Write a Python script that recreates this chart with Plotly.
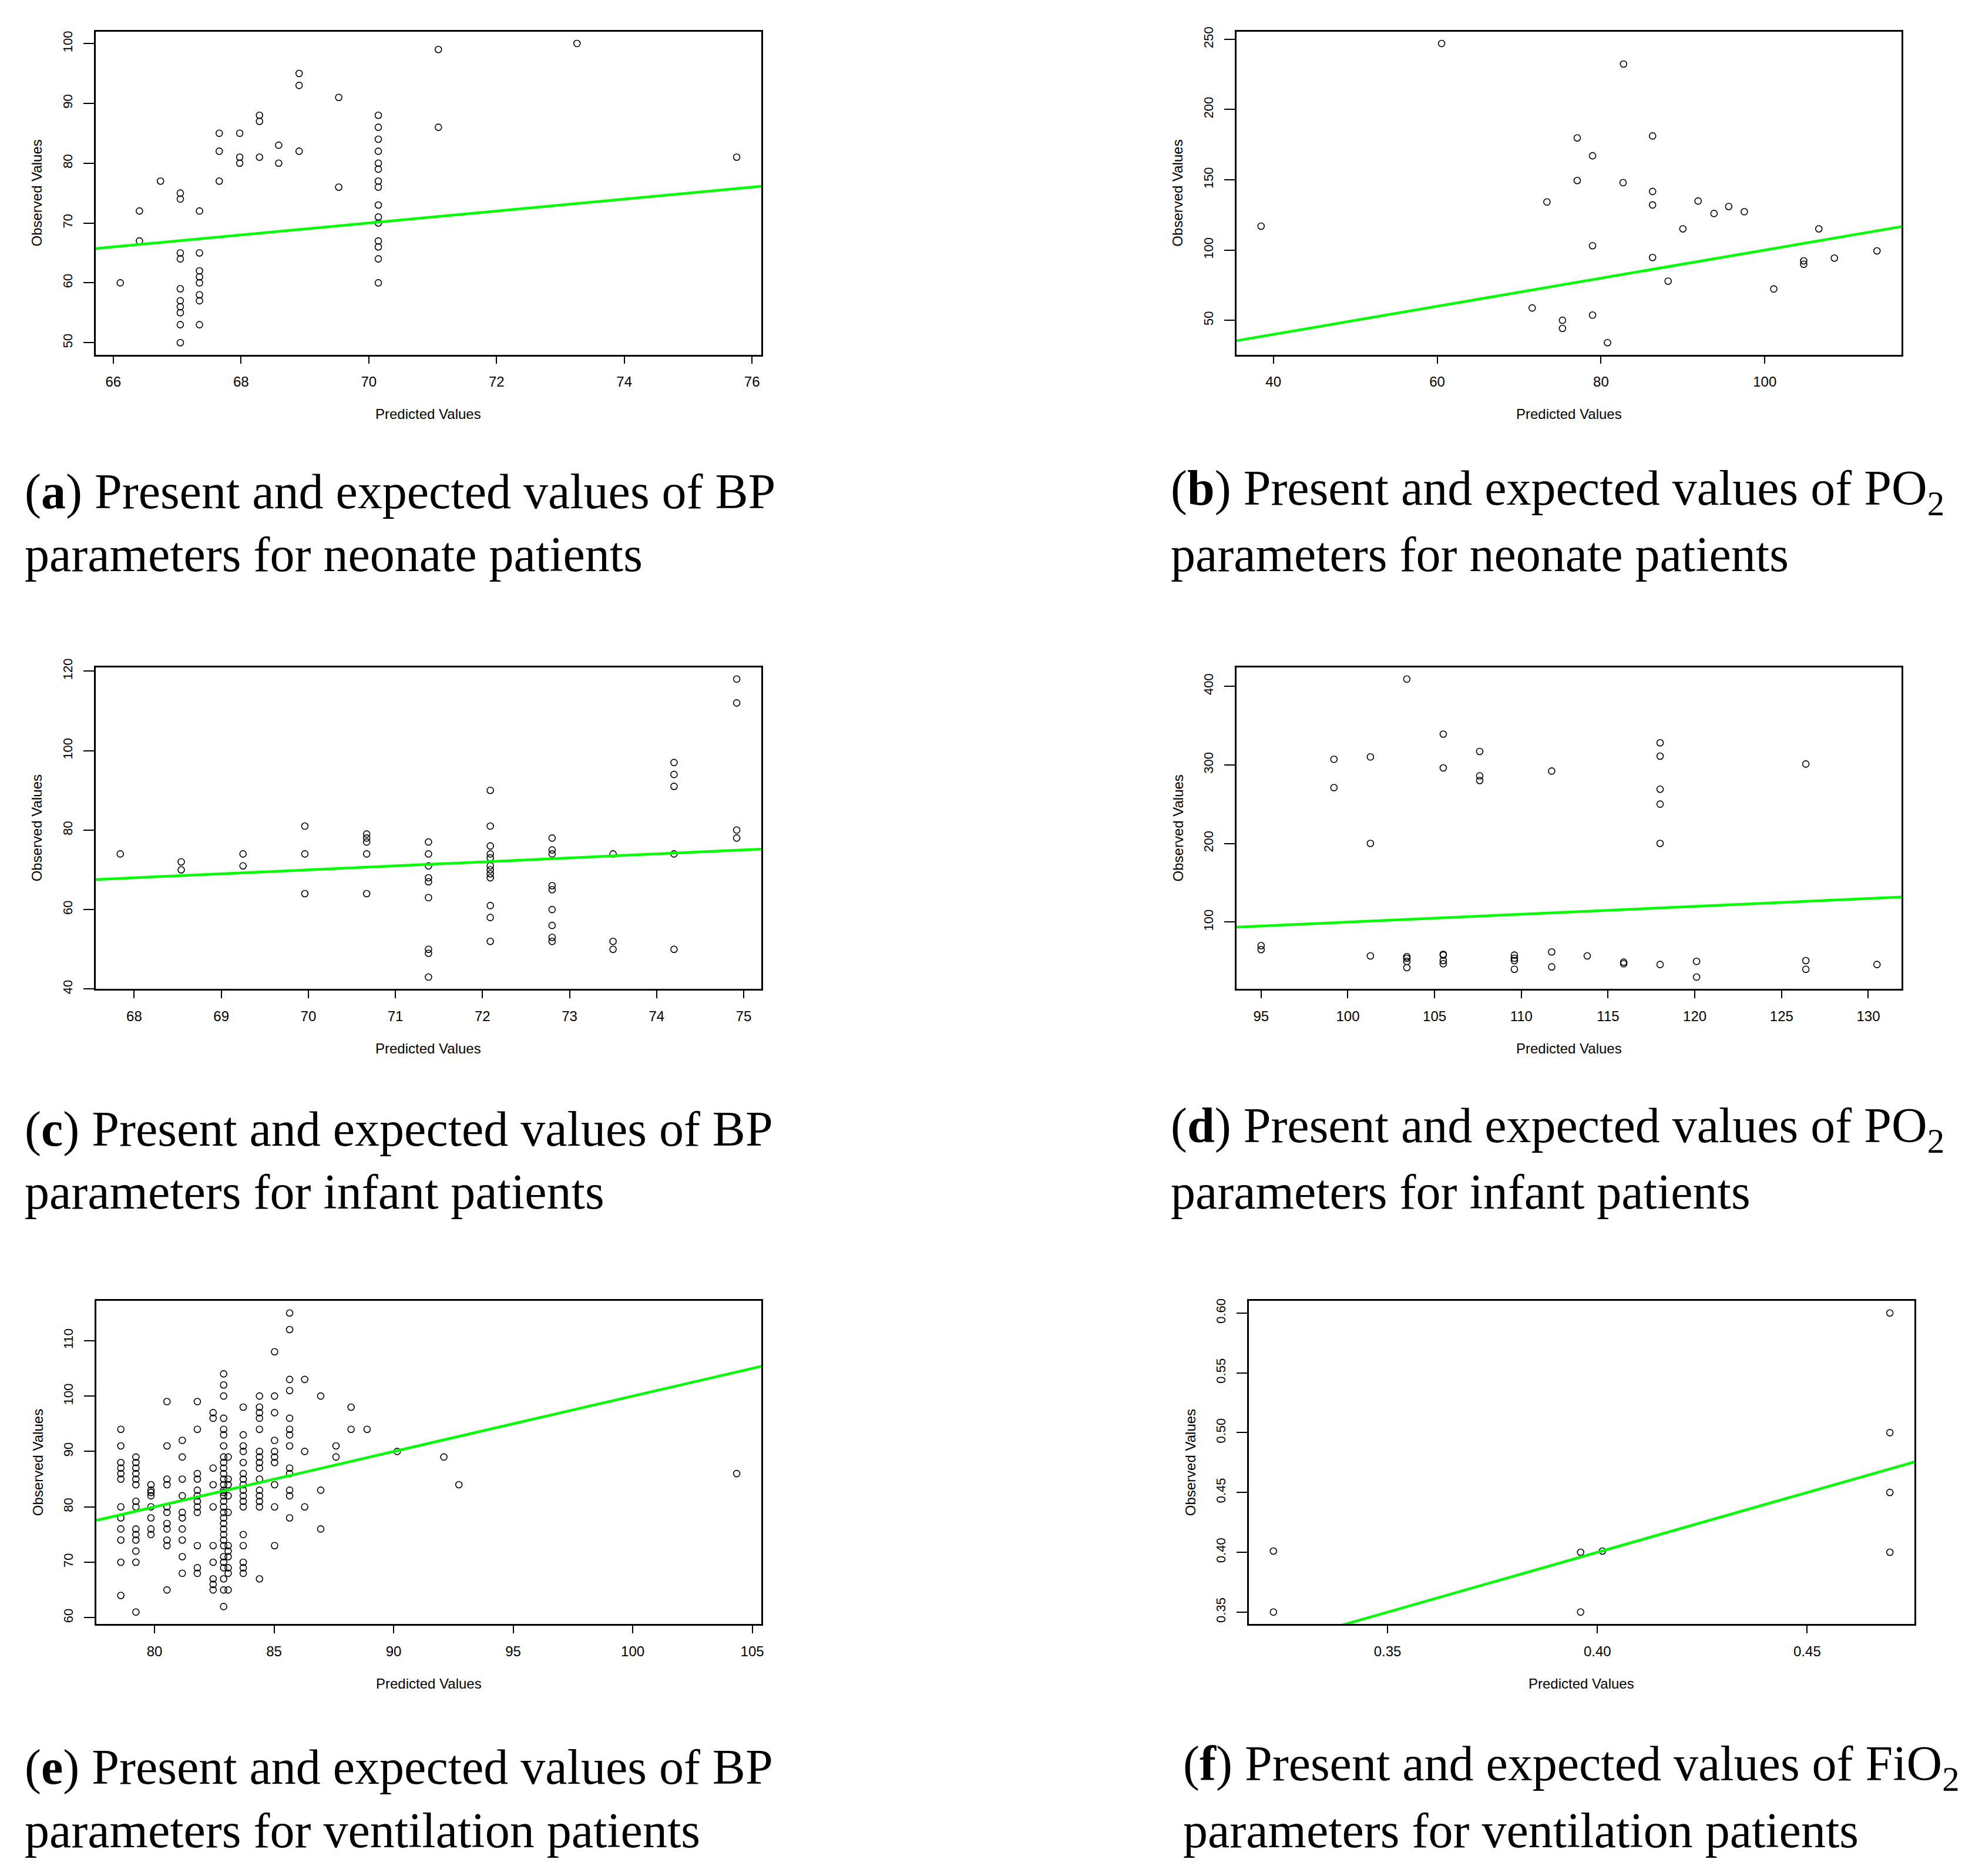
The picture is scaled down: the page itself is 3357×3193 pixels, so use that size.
import plotly.graph_objects as go

# ---------------- data ----------------
# (a) BP, neonate
a_x = [66.11, 66.41, 66.41, 66.74] + [67.05]*10 + [67.35]*8 + [67.66]*3 + [67.98]*3 + [68.29]*3 + [68.59]*2 + [68.91]*3 + [69.53]*2 + [70.15]*15 + [71.09]*2 + [73.26, 75.76]
a_y = [60, 72, 67, 77,
       75, 74, 65, 64, 59, 57, 56, 55, 53, 50,
       72, 65, 62, 61, 60, 58, 57, 53,
       85, 82, 77,
       85, 81, 80,
       88, 87, 81,
       83, 80,
       95, 93, 82,
       91, 76,
       88, 86, 84, 82, 80, 79, 77, 76, 73, 71, 70, 67, 66, 64, 60,
       99, 86,
       100, 81]

# (b) PO2, neonate
b_x = [38.5, 60.54, 82.75, 77.1, 86.3, 78.97, 77.1, 82.7, 86.3, 73.4, 91.86, 86.3, 95.6, 97.5, 93.8,
       90.0, 106.6, 78.97, 113.7, 86.3, 108.5, 104.75, 104.75, 88.2, 101.1, 71.6, 75.3, 75.3, 78.97, 80.8]
b_y = [117.0, 247.0, 232.4, 179.8, 181.2, 167.1, 149.5, 148.0, 141.7, 134.2, 134.9, 132.1, 131.0, 127.3, 126.0,
       115.1, 115.1, 103.1, 99.4, 94.7, 94.3, 92.3, 89.9, 77.9, 72.3, 58.8, 50.0, 44.2, 53.7, 34.1]

# (c) BP, infant
c_x = [67.84] + [68.54]*2 + [69.25]*2 + [69.96]*3 + [70.67]*5 + [71.38]*9 + [72.09]*12 + [72.8]*9 + [73.5]*3 + [74.2]*5 + [74.92]*4
c_y = [74,
       72, 70,
       74, 71,
       81, 74, 64,
       79, 78, 77, 74, 64,
       77, 74, 71, 68, 67, 63, 50, 49, 43,
       90, 81, 76, 74, 73, 71, 70, 69, 68, 61, 58, 52,
       78, 75, 74, 66, 65, 60, 56, 53, 52,
       74, 52, 50,
       97, 94, 91, 74, 50,
       118, 112, 80, 78]

# (d) PO2, infant
d_x = [95.0]*2 + [99.2]*2 + [101.3]*3 + [103.4]*5 + [105.5]*6 + [107.6]*3 + [109.6]*4 + [111.75]*3 + [113.8] + [115.9]*2 + [118.0]*6 + [120.1]*2 + [126.4]*3 + [130.5]
d_y = [70, 65,
       307, 271,
       310, 200, 57,
       409, 56, 54, 50, 42,
       339, 296, 59, 58, 51, 47,
       317, 286, 280,
       58, 54, 51, 40,
       292, 62, 43,
       57,
       49, 47,
       328, 311, 269, 250, 200, 46,
       50, 30,
       301, 51, 40,
       46]

# (e) BP, ventilation  (predicted value -> observed values)
e_cols = {
    78.59: [94, 91, 88, 87, 86, 85, 80, 78, 76, 74, 70, 64],
    79.22: [89, 88, 87, 86, 85, 84, 81, 80, 76, 75, 74, 72, 70, 61],
    79.85: [84, 83, 82.6, 82, 80, 78, 76, 75],
    80.52: [99, 91, 85, 84, 80, 79, 77, 76, 74, 73, 65],
    81.16: [92, 89, 85, 82, 79, 78, 76, 74, 71, 68],
    81.79: [99, 94, 86, 85, 83, 82, 81, 80, 79, 73, 69, 68],
    82.45: [97, 96, 87, 84, 80, 73, 70, 67, 66, 65],
    82.89: [104, 102, 100, 96, 94, 93, 91, 89, 88, 87, 86, 85, 84, 83, 82.6, 82, 81, 80, 79, 78, 77, 76, 75, 74, 73, 71, 70, 69, 67, 65, 62],
    83.08: [89, 85, 84, 82, 79, 73, 72, 71, 69, 68, 65],
    83.71: [98, 93, 91, 90, 88, 86, 85, 84, 83, 82, 81, 80, 75, 73, 70, 69, 68],
    84.39: [100, 98, 97, 96, 94, 90, 89, 88, 87, 85, 83, 82, 81, 80, 67],
    85.02: [108, 100, 97, 92, 90, 89, 88, 84, 80, 73],
    85.65: [115, 112, 103, 101, 96, 94, 93, 91, 87, 86, 83, 82, 78],
    86.28: [103, 90, 80],
    86.95: [100, 83, 76],
    87.59: [91, 89],
    88.22: [98, 94],
    88.89: [94],
    90.15: [90],
    92.1: [89],
    92.73: [84],
    104.35: [86],
}
e_x = [k for k, v in e_cols.items() for _ in v]
e_y = [y for v in e_cols.values() for y in v]

# (f) FiO2, ventilation
f_x = [0.3228, 0.3228, 0.396, 0.396, 0.4012, 0.4697, 0.4697, 0.4697, 0.4697]
f_y = [0.401, 0.35, 0.40, 0.35, 0.401, 0.60, 0.50, 0.45, 0.40]

# tick values
a_xt, a_yt = [66, 68, 70, 72, 74, 76], [50, 60, 70, 80, 90, 100]
b_xt, b_yt = [40, 60, 80, 100], [50, 100, 150, 200, 250]
c_xt, c_yt = [68, 69, 70, 71, 72, 73, 74, 75], [40, 60, 80, 100, 120]
d_xt, d_yt = [95, 100, 105, 110, 115, 120, 125, 130], [100, 200, 300, 400]
e_xt, e_yt = [80, 85, 90, 95, 100, 105], [60, 70, 80, 90, 100, 110]
f_xt, f_yt = [0.35, 0.40, 0.45], [0.35, 0.40, 0.45, 0.50, 0.55, 0.60]

captions = {
    "a": ("(<b>a</b>) Present and expected values of BP", "parameters for neonate patients"),
    "b": ("(<b>b</b>) Present and expected values of PO<sub>2</sub>", "parameters for neonate patients"),
    "c": ("(<b>c</b>) Present and expected values of BP", "parameters for infant patients"),
    "d": ("(<b>d</b>) Present and expected values of PO<sub>2</sub>", "parameters for infant patients"),
    "e": ("(<b>e</b>) Present and expected values of BP", "parameters for ventilation patients"),
    "f": ("(<b>f</b>) Present and expected values of FiO<sub>2</sub>", "parameters for ventilation patients"),
}

# ---------------- layout geometry (pixels) ----------------
W, H = 3357, 3193
boxes = {
    "a": (163, 1298, 39, 593),
    "b": (2108, 3242, 39, 593),
    "c": (163, 1298, 1129, 1681),
    "d": (2108, 3242, 1129, 1681),
    "e": (164, 1298, 2216, 2770),
    "f": (2129, 3264, 2216, 2770),
}
cap_pos = {
    "a": (40, 828, 936), "b": (1994, 828, 936),
    "c": (40, 1921, 2029), "d": (1994, 1921, 2029),
    "e": (40, 3016, 3124), "f": (2015, 3016, 3124),
}

panels = [
    ("a", a_x, a_y, a_xt, a_yt, None),
    ("b", b_x, b_y, b_xt, b_yt, None),
    ("c", c_x, c_y, c_xt, c_yt, None),
    ("d", d_x, d_y, d_xt, d_yt, None),
    ("e", e_x, e_y, e_xt, e_yt, None),
    ("f", f_x, f_y, f_xt, f_yt, ".2f"),
]

def rrange(v):
    lo, hi = min(v), max(v)
    d = (hi - lo) * 0.04
    return [lo - d, hi + d]

fig = go.Figure()
SANS = "Liberation Sans, Arial, sans-serif"
SERIF = "Liberation Serif, Times New Roman, serif"
annotations = []

for i, (key, xs, ys, xt, yt, fmt) in enumerate(panels, start=1):
    sfx = "" if i == 1 else str(i)
    xr, yr = rrange(xs), rrange(ys)
    fig.add_trace(go.Scatter(
        x=xs, y=ys, mode="markers", xaxis="x" + sfx, yaxis="y" + sfx,
        marker=dict(symbol="circle-open", size=11, color="black", line=dict(width=1.6, color="black")),
        showlegend=False, hoverinfo="x+y"))
    # identity reference line (abline 0,1) over the x range
    fig.add_trace(go.Scatter(
        x=xr, y=xr, mode="lines", xaxis="x" + sfx, yaxis="y" + sfx,
        line=dict(color="#00ff00", width=4.5), showlegend=False, hoverinfo="skip"))
    x0, x1, y0, y1 = boxes[key]
    xa = dict(domain=[x0 / W, x1 / W], range=xr, tickvals=xt, ticks="outside", ticklen=13,
              tickwidth=2, tickcolor="black", showline=True, mirror=True, linewidth=2.5,
              linecolor="black", showgrid=False, zeroline=False, anchor="y" + sfx,
              tickfont=dict(family=SANS, size=24, color="black"), ticklabelstandoff=10)
    ya = dict(domain=[1 - y1 / H, 1 - y0 / H], range=yr, tickvals=yt, ticks="outside", ticklen=18,
              tickwidth=2, tickcolor="black", showline=True, mirror=True, linewidth=2.5,
              linecolor="black", showgrid=False, zeroline=False, anchor="x" + sfx,
              tickangle=-90, tickfont=dict(family=SANS, size=22, color="black"), ticklabelstandoff=10)
    if fmt:
        xa["tickformat"] = fmt
        ya["tickformat"] = fmt
    fig.update_layout(**{"xaxis" + sfx: xa, "yaxis" + sfx: ya})
    # axis titles
    annotations.append(dict(text="Predicted Values", x=(x0 + x1) / 2 / W, y=1 - (y1 + 102) / H,
                            xref="paper", yref="paper", showarrow=False, xanchor="center", yanchor="middle",
                            font=dict(family=SANS, size=24, color="black")))
    annotations.append(dict(text="Observed Values", x=(x0 - 100) / W, y=1 - (y0 + y1) / 2 / H,
                            xref="paper", yref="paper", showarrow=False, xanchor="center", yanchor="middle",
                            textangle=-90, font=dict(family=SANS, size=24, color="black")))
    # caption
    cx, cy1, cy2 = cap_pos[key]
    l1, l2 = captions[key]
    for txt, cy in ((l1, cy1), (l2, cy2)):
        annotations.append(dict(text=txt, x=cx / W, y=1 - cy / H, xref="paper", yref="paper",
                                showarrow=False, xanchor="left", yanchor="middle",
                                font=dict(family=SERIF, size=84, color="black")))

fig.update_layout(width=W, height=H, margin=dict(l=0, r=0, t=0, b=0),
                  paper_bgcolor="white", plot_bgcolor="white", annotations=annotations)
fig.write_html("out.html", config={"displayModeBar": False},
               post_script="document.body.style.margin='0px';")
